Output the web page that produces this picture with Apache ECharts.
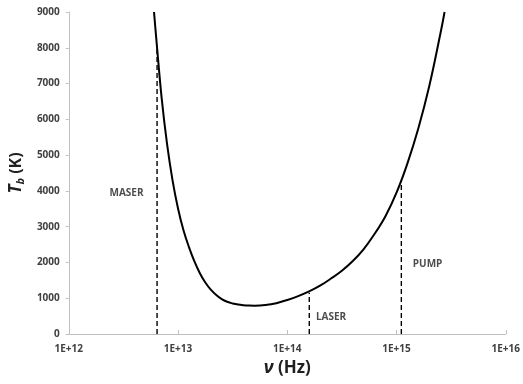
<!DOCTYPE html>
<html>
<head>
<meta charset="utf-8">
<script src="https://cdn.jsdelivr.net/npm/echarts@6/dist/echarts.min.js"></script>
<style>
  html, body { margin: 0; padding: 0; background: #fff; }
  #chart { width: 523px; height: 384px; }
</style>
</head>
<body>
<div id="chart"></div>
<script>
// brightness temperature curve
var curveNu = [6.03e12, 6.31e12, 7.08e12, 7.94e12, 8.91e12, 1.0e13, 1.122e13, 1.259e13,
  1.413e13, 1.585e13, 1.778e13, 1.995e13, 2.239e13, 2.512e13, 2.818e13, 3.162e13,
  3.548e13, 3.981e13, 4.467e13, 5.012e13, 6.31e13, 7.943e13, 1.0e14, 1.259e14,
  1.585e14, 1.995e14, 2.512e14, 3.162e14, 3.981e14, 5.012e14, 6.31e14, 7.943e14,
  1.0e15, 1.259e15, 1.585e15, 1.995e15, 2.512e15, 2.754e15];
var curveT = [9000, 8290, 6600, 5305, 4294, 3509, 2900, 2430,
  2030, 1700, 1440, 1240, 1090, 975, 900, 853,
  822, 805, 796, 793, 810, 862, 952, 1060,
  1190, 1350, 1550, 1770, 2040, 2375, 2800, 3300,
  3950, 4770, 5750, 6930, 8370, 9000];

// dashed markers
var markerNames = ['MASER', 'LASER', 'PUMP'];
var markerNu = [6.43e12, 1.59e14, 1.107e15];
var markerTop = [8000, 1150, 4300];

// where the marker names sit
var labelNu = [2.36e12, 1.83e14, 1.41e15];
var labelT = [3930, 466, 1941];

var xTicks = ['1E+12', '1E+13', '1E+14', '1E+15', '1E+16'];
var yMax = 9000, yStep = 1000;

var font = 'Open Sans';
var labelColor = '#404040';

var curveData = curveNu.map(function (v, i) { return [v, curveT[i]]; });

var series = [{
  type: 'line',
  data: curveData,
  smooth: 0.4,
  showSymbol: false,
  lineStyle: { color: '#000', width: 2 },
  z: 3
}];

markerNu.forEach(function (nu, i) {
  series.push({
    type: 'line',
    data: [[nu, 0], [nu, markerTop[i]]],
    showSymbol: false,
    lineStyle: { color: '#000', width: 1.4, type: [5, 3] },
    z: 2
  });
});

series.push({
  type: 'scatter',
  symbolSize: 0,
  data: labelNu.map(function (v, i) { return { value: [v, labelT[i]], name: markerNames[i] }; }),
  label: {
    show: true,
    position: 'inside',
    align: 'left',
    formatter: '{b}',
    fontFamily: font,
    fontWeight: 'bold',
    fontSize: 10,
    color: '#202020'
  },
  silent: true
});

var chart = echarts.init(document.getElementById('chart'));
chart.setOption({
  animation: false,
  grid: { left: 63, right: 13, top: 12, bottom: 50 },
  xAxis: {
    type: 'log',
    logBase: 10,
    min: 1e12,
    max: 1e16,
    name: '{nu|ν}{t| (Hz)}',
    nameLocation: 'middle',
    nameGap: 25,
    nameTextStyle: {
      rich: {
        nu: { fontFamily: font, fontStyle: 'italic', fontWeight: 'bold', fontSize: 18, color: '#202020' },
        t: { fontFamily: font, fontWeight: 'bold', fontSize: 17, color: '#202020' }
      }
    },
    axisLine: { lineStyle: { color: '#bfbfbf', width: 1 } },
    axisTick: { inside: true, length: 4, lineStyle: { color: '#bfbfbf' } },
    minorTick: { show: false },
    splitLine: { show: false },
    axisLabel: {
      margin: 10,
      fontFamily: font,
      fontWeight: 'bold',
      fontSize: 10,
      color: labelColor,
      formatter: function (v) {
        return xTicks[Math.round(Math.log10(v)) - 12];
      }
    }
  },
  yAxis: {
    type: 'value',
    min: 0,
    max: yMax,
    interval: yStep,
    name: '{T|T}{b|b}{k| (K)}',
    nameLocation: 'middle',
    nameRotate: 90,
    nameGap: 38,
    nameTextStyle: {
      rich: {
        T: { fontFamily: font, fontStyle: 'italic', fontWeight: 'bold', fontSize: 17, color: '#202020' },
        b: { fontFamily: font, fontStyle: 'italic', fontWeight: 'bold', fontSize: 11, color: '#202020', verticalAlign: 'bottom', padding: [8, 0, 0, 0] },
        k: { fontFamily: font, fontWeight: 'bold', fontSize: 16, color: '#202020' }
      }
    },
    axisLine: { show: true, lineStyle: { color: '#bfbfbf', width: 1 } },
    axisTick: { show: true, length: 3, lineStyle: { color: '#bfbfbf' } },
    splitLine: { show: false },
    axisLabel: {
      margin: 9,
      fontFamily: font,
      fontWeight: 'bold',
      fontSize: 10,
      color: labelColor,
      formatter: function (v) { return String(v); }
    }
  },
  series: series
});
</script>
</body>
</html>
